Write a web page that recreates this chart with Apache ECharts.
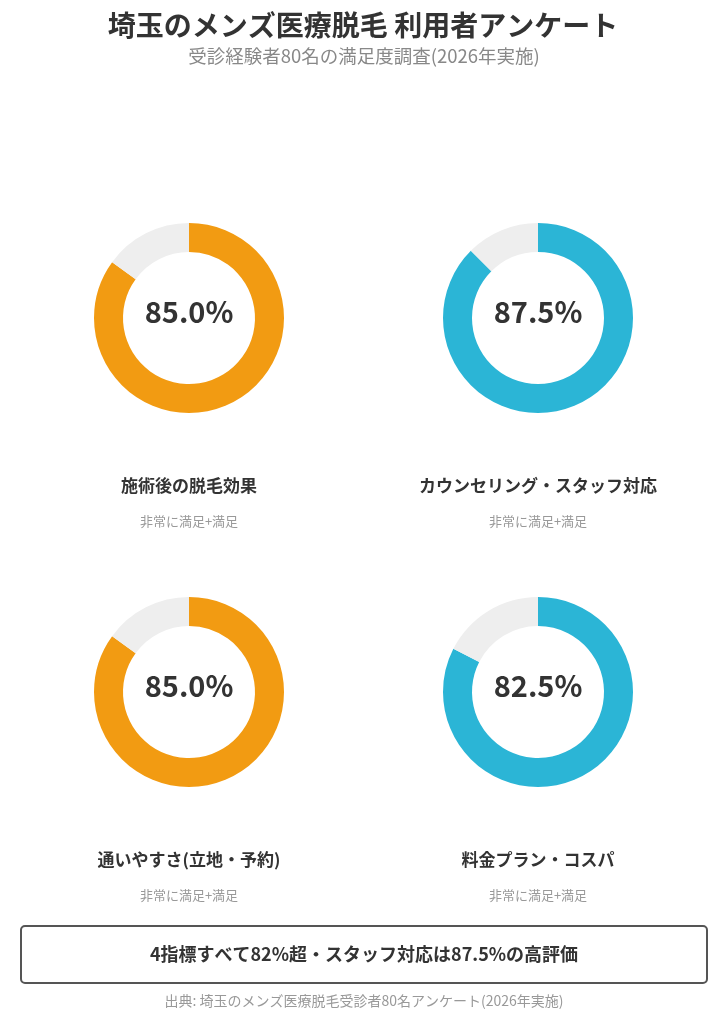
<!DOCTYPE html>
<html>
<head>
<meta charset="utf-8">
<script src="https://cdn.jsdelivr.net/npm/echarts@6/dist/echarts.min.js"></script>
<style>
html,body{margin:0;padding:0;background:#fff;}
#chart{width:727px;height:1024px;}
</style>
</head>
<body>
<div id="chart"></div>
<script>
var titleText = '埼玉のメンズ医療脱毛 利用者アンケート';
var subtitleText = '受診経験者80名の満足度調査(2026年実施)';
var categories = ['施術後の脱毛効果', 'カウンセリング・スタッフ対応', '通いやすさ(立地・予約)', '料金プラン・コスパ'];
var satisfied = [85.0, 87.5, 85.0, 82.5];
var subLabel = '非常に満足+満足';
var summaryText = '4指標すべて82%超・スタッフ対応は87.5%の高評価';
var sourceText = '出典: 埼玉のメンズ医療脱毛受診者80名アンケート(2026年実施)';
var colors = ['#F29B12', '#2BB5D6', '#F29B12', '#2BB5D6'];

var FONT = '"Noto Sans CJK JP","Noto Sans",sans-serif';
var centers = [[189, 318], [538, 318], [189, 692], [538, 692]];

var chart = echarts.init(document.getElementById('chart'), null, {renderer: 'canvas'});

var series = categories.map(function (c, i) {
  return {
    type: 'pie',
    name: c,
    center: centers[i],
    radius: [66, 95],
    startAngle: 90,
    clockwise: true,
    silent: true,
    animation: false,
    labelLine: {show: false},
    label: {show: false},
    data: [
      {value: satisfied[i], name: c, itemStyle: {color: colors[i]}},
      {value: +(100 - satisfied[i]).toFixed(1), name: 'その他', itemStyle: {color: '#EEEEEE'}}
    ]
  };
});

var graphics = [];
categories.forEach(function (c, i) {
  var cx = centers[i][0];
  var cy = centers[i][1];
  graphics.push({
    type: 'text',
    style: {
      text: satisfied[i].toFixed(1) + '%', x: cx, y: cy - 6, align: 'center', verticalAlign: 'middle',
      font: 'bold 29px ' + FONT, fill: '#333333'
    }
  });
  graphics.push({
    type: 'text',
    style: {
      text: c, x: cx, y: cy + 168, align: 'center', verticalAlign: 'middle',
      font: 'bold 17px ' + FONT, fill: '#333333'
    }
  });
  graphics.push({
    type: 'text',
    style: {
      text: subLabel, x: cx, y: cy + 203, align: 'center', verticalAlign: 'middle',
      font: '13px ' + FONT, fill: '#999999'
    }
  });
});
graphics.push({
  type: 'rect',
  shape: {x: 21, y: 926, width: 686, height: 57, r: 4},
  style: {fill: '#ffffff', stroke: '#555555', lineWidth: 2}
});
graphics.push({
  type: 'text',
  style: {
    text: summaryText, x: 364, y: 954, align: 'center', verticalAlign: 'middle',
    font: 'bold 18px ' + FONT, fill: '#333333'
  }
});
graphics.push({
  type: 'text',
  style: {
    text: sourceText, x: 364, y: 1001, align: 'center', verticalAlign: 'middle',
    font: '14px ' + FONT, fill: '#999999'
  }
});
graphics.push({
  type: 'text',
  style: {
    text: titleText, x: 363, y: 25, align: 'center', verticalAlign: 'middle',
    font: 'bold 28px ' + FONT, fill: '#333333'
  }
});
graphics.push({
  type: 'text',
  style: {
    text: subtitleText, x: 364, y: 56, align: 'center', verticalAlign: 'middle',
    font: '18.5px ' + FONT, fill: '#888888'
  }
});

chart.setOption({
  backgroundColor: '#ffffff',
  animation: false,
  series: series,
  graphic: graphics
});
</script>
</body>
</html>
